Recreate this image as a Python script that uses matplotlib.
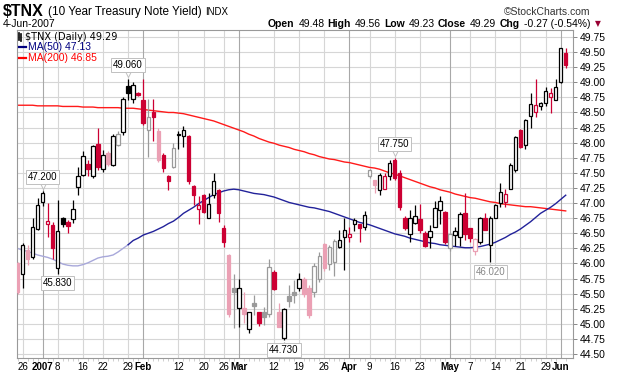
import numpy as np
import matplotlib
matplotlib.use('Agg')
import matplotlib.pyplot as plt
from matplotlib.patches import Rectangle
from matplotlib.lines import Line2D
from matplotlib import transforms

plt.rcParams['font.family'] = ['Liberation Sans', 'DejaVu Sans']

# daily candles, 22-Dec-2006 .. 4-Jun-2007 (trading-day index 0..109)
opens = [46.00, 45.83, 46.23, 46.10, 46.57, 47.01, 46.65, 46.64, 45.92, 46.75,
         46.68, 46.73, 47.27, 47.46, 47.65, 47.45, 47.98, 47.56, 47.83, 47.63,
         47.96, 48.18, 48.94, 48.73, 48.83, 48.71, 48.21, 48.50, 48.20, 47.80,
         47.45, 47.59, 48.13, 48.11, 48.11, 47.28, 46.90, 47.13, 46.76, 47.13,
         47.22, 46.58, 46.14, 45.59, 45.26, 45.26, 44.91, 45.35, 45.20, 45.19,
         45.16, 45.86, 45.20, 44.76, 45.46, 45.52, 45.60, 45.75, 45.59, 45.53,
         45.75, 46.32, 45.99, 46.03, 46.27, 46.44, 46.44, 46.66, 46.65, 46.60,
         47.44, 47.38, 47.21, 47.24, 47.44, 47.72, 47.50, 46.75, 46.49, 46.67,
         46.73, 46.51, 46.44, 46.61, 46.89, 46.86, 46.25, 46.47, 46.44, 46.84,
         46.58, 46.21, 46.36, 46.75, 46.30, 46.76, 47.00, 47.01, 47.24, 47.55,
         48.21, 47.96, 48.44, 48.50, 48.60, 48.65, 48.75, 48.71, 49.01, 49.48]
highs = [46.02, 46.34, 46.30, 46.75, 47.08, 47.20, 47.00, 46.69, 47.05, 46.77,
         46.72, 47.05, 47.60, 47.86, 47.72, 47.96, 48.24, 47.88, 47.86, 48.15,
         48.20, 48.76, 49.06, 49.00, 48.84, 49.05, 48.73, 48.73, 48.25, 47.83,
         47.46, 47.99, 48.20, 48.28, 48.13, 47.30, 47.12, 47.15, 47.16, 47.49,
         47.23, 46.64, 46.15, 45.83, 45.75, 45.52, 45.20, 45.48, 45.20, 45.28,
         46.07, 45.89, 45.35, 45.27, 45.64, 45.73, 45.84, 45.78, 45.65, 46.00,
         46.19, 46.34, 46.31, 46.40, 46.55, 46.76, 46.61, 46.76, 46.66, 46.87,
         47.56, 47.38, 47.49, 47.50, 47.72, 47.75, 47.55, 46.79, 46.89, 46.97,
         46.98, 46.53, 46.64, 47.04, 47.11, 46.87, 46.48, 46.61, 46.86, 47.16,
         46.58, 46.42, 46.77, 46.84, 46.78, 46.99, 47.33, 47.24, 47.66, 48.11,
         48.22, 48.40, 48.82, 49.05, 48.68, 48.92, 48.90, 49.05, 49.56, 49.56]
lows = [45.50, 45.59, 45.97, 46.08, 46.55, 46.95, 46.44, 46.08, 45.83, 46.60,
        46.50, 46.67, 47.13, 47.44, 47.44, 47.41, 47.55, 47.52, 47.62, 47.61,
        47.94, 48.13, 48.70, 48.66, 48.77, 48.30, 47.77, 48.02, 47.68, 47.52,
        47.22, 47.58, 47.89, 47.93, 47.32, 46.97, 46.66, 46.83, 46.76, 47.09,
        46.68, 46.28, 45.11, 44.93, 44.94, 45.01, 44.85, 45.15, 44.96, 44.98,
        45.12, 45.56, 44.94, 44.73, 45.28, 45.34, 45.55, 45.45, 45.10, 45.45,
        45.70, 45.88, 45.89, 45.80, 46.25, 45.89, 46.36, 46.53, 46.36, 46.55,
        47.42, 47.16, 47.13, 47.23, 47.38, 47.38, 46.89, 46.55, 46.36, 46.66,
        46.51, 46.28, 46.25, 46.61, 46.66, 46.33, 46.20, 46.29, 46.29, 46.39,
        46.36, 46.14, 46.33, 46.55, 46.02, 46.75, 46.94, 46.94, 47.23, 47.52,
        47.91, 47.90, 48.24, 48.42, 48.54, 48.60, 48.49, 48.70, 48.98, 49.23]
closes = [45.53, 46.30, 46.08, 46.60, 46.97, 47.16, 46.71, 46.25, 46.53, 46.66,
          46.62, 46.90, 47.45, 47.78, 47.56, 47.94, 47.60, 47.80, 47.65, 48.11,
          48.15, 48.72, 48.83, 48.96, 48.79, 48.32, 48.43, 48.42, 47.72, 47.58,
          47.37, 47.91, 48.15, 48.21, 47.37, 47.13, 46.96, 46.86, 46.99, 47.37,
          46.84, 46.36, 45.16, 45.53, 45.60, 45.17, 45.20, 45.30, 45.01, 45.12,
          45.94, 45.57, 44.95, 45.25, 45.38, 45.48, 45.75, 45.50, 45.14, 45.96,
          46.12, 45.92, 46.27, 46.37, 46.39, 46.55, 46.48, 46.72, 46.58, 46.81,
          47.54, 47.30, 47.46, 47.44, 47.67, 47.41, 46.93, 46.58, 46.76, 46.79,
          46.55, 46.29, 46.53, 46.91, 47.04, 46.36, 46.48, 46.53, 46.82, 46.49,
          46.42, 46.40, 46.75, 46.55, 46.76, 46.97, 47.19, 47.15, 47.63, 48.10,
          47.93, 48.38, 48.64, 48.62, 48.65, 48.86, 48.82, 48.93, 49.56, 49.29]

ma50 = [46.25, 46.22, 46.20, 46.17, 46.14, 46.12, 46.10, 46.07, 46.03, 45.99,
        45.97, 45.96, 45.96, 45.98, 46.01, 46.05, 46.09, 46.11, 46.12, 46.14,
        46.19, 46.25, 46.31, 46.38, 46.42, 46.47, 46.50, 46.53, 46.57, 46.61,
        46.66, 46.70, 46.76, 46.83, 46.88, 46.93, 46.99, 47.04, 47.09, 47.14,
        47.17, 47.20, 47.22, 47.23, 47.22, 47.20, 47.18, 47.16, 47.15, 47.14,
        47.12, 47.10, 47.07, 47.04, 47.01, 46.99, 46.97, 46.95, 46.93, 46.92,
        46.90, 46.88, 46.86, 46.83, 46.80, 46.77, 46.74, 46.71, 46.68, 46.66,
        46.64, 46.61, 46.58, 46.55, 46.52, 46.49, 46.47, 46.45, 46.42, 46.40,
        46.38, 46.36, 46.34, 46.33, 46.31, 46.30, 46.29, 46.28, 46.27, 46.26,
        46.26, 46.27, 46.28, 46.30, 46.32, 46.35, 46.39, 46.43, 46.48, 46.52,
        46.57, 46.63, 46.69, 46.76, 46.83, 46.88, 46.93, 46.99, 47.06, 47.13]
ma200 = [48.62, 48.62, 48.62, 48.62, 48.61, 48.61, 48.61, 48.61, 48.61, 48.60,
         48.60, 48.60, 48.60, 48.59, 48.59, 48.59, 48.58, 48.58, 48.58, 48.58,
         48.58, 48.57, 48.57, 48.57, 48.56, 48.55, 48.54, 48.53, 48.52, 48.51,
         48.50, 48.50, 48.49, 48.48, 48.46, 48.44, 48.42, 48.40, 48.38, 48.36,
         48.33, 48.30, 48.27, 48.24, 48.21, 48.18, 48.14, 48.11, 48.07, 48.04,
         48.01, 47.99, 47.96, 47.94, 47.92, 47.89, 47.87, 47.85, 47.82, 47.80,
         47.77, 47.75, 47.73, 47.72, 47.70, 47.68, 47.67, 47.65, 47.63, 47.61,
         47.59, 47.58, 47.56, 47.53, 47.50, 47.48, 47.45, 47.42, 47.39, 47.36,
         47.33, 47.30, 47.27, 47.25, 47.22, 47.20, 47.18, 47.15, 47.13, 47.11,
         47.09, 47.08, 47.06, 47.04, 47.02, 47.01, 46.99, 46.98, 46.97, 46.96,
         46.95, 46.94, 46.94, 46.93, 46.92, 46.91, 46.90, 46.89, 46.88, 46.87]

tick_pos = [1, 5, 8, 13, 17, 22, 25, 32, 37, 41, 44, 51, 56, 61, 66, 70, 75, 80,
            86, 90, 95, 100, 105, 108]
tick_labels = ['26', '2007', '8', '16', '22', '29', 'Feb', '12', '20', '26', 'Mar',
               '12', '19', '26', 'Apr', '9', '16', '23', 'May', '7', '14', '21',
               '29', 'Jun']
month_labels = ['2007', 'Feb', 'Mar', 'Apr', 'May', 'Jun']

# labelled extremes: (index, 'high' / 'low')
marks = [(22, 'high'), (5, 'high'), (8, 'low'), (53, 'low'), (75, 'high'), (94, 'low')]

# candles that look washed out in the original
faded = {0, 2, 18, 20, 26, 28, 31, 42, 43, 45, 47, 49, 50, 52, 54, 55, 57, 58,
         59, 60, 61, 62, 63, 70, 71, 86, 91}

W, H = 620, 376
RED, PINK, BLACK, GRAY = '#cc0033', '#eba0b4', '#000000', '#9a9a9a'


def fx(x):
    return x / W


def fy(y):
    return 1 - y / H


fig = plt.figure(figsize=(W / 100, H / 100), dpi=100)
L, R, T, B = 17, 573, 30, 358
ax = fig.add_axes([fx(L), fy(B), (R - L) / W, (B - T) / H])
ax.set_xlim(-0.1, 110.45)
ax.set_ylim(44.434, 49.866)

# grid
yt = np.arange(44.5, 49.76, 0.25)
for v in yt:
    ax.axhline(v, color='#d6d6d6', lw=0.8, zorder=0)
for p, lab in zip(tick_pos, tick_labels):
    ax.axvline(p, color='#a8a8a8' if lab in month_labels else '#d6d6d6', lw=0.8, zorder=0)

# moving averages
idx = np.arange(len(closes))
ax.plot(idx, ma200, color='#ff1a1a', lw=1.0, zorder=2)
ax.plot(idx[:23], ma50[:23], color='#a8a8da', lw=1.0, zorder=2)
ax.plot(idx[22:], ma50[22:], color='#22229a', lw=1.0, zorder=2)

# candles
bw = 0.7
for i in idx:
    o, h, l, c = opens[i], highs[i], lows[i], closes[i]
    prev = closes[i - 1] if i > 0 else o
    up = c >= prev
    if i in faded:
        col = GRAY if up else PINK
    else:
        col = BLACK if up else RED
    hollow = c > o
    ax.vlines(i, l, h, color=col, lw=0.9, zorder=3)
    lo, hi = min(o, c), max(o, c)
    if hi - lo < 0.02:
        lo, hi = (lo + hi) / 2 - 0.01, (lo + hi) / 2 + 0.01
    ax.add_patch(Rectangle((i - bw / 2, lo), bw, hi - lo, fc='white' if hollow else col,
                           ec=col, lw=0.9, zorder=4))

# high / low labels
for i, kind in marks:
    v = highs[i] if kind == 'high' else lows[i]
    dy = 10 if kind == 'high' else -7
    tc = '#888888' if i == 94 else 'black'
    ax.annotate(f'{v:.3f}', xy=(i, v), xytext=(0, dy), textcoords='offset points',
                ha='center', va='center', fontsize=7, color=tc, zorder=6,
                bbox=dict(boxstyle='square,pad=0.2', fc='white', ec='#c0c0c0', lw=0.7))
    off = transforms.offset_copy(ax.transData, fig=fig, x=0, y=(3.5 if kind == 'high' else -3.5),
                                 units='points')
    ax.plot(i, v, marker='v' if kind == 'high' else '^', ms=4, mfc='white', mec='#c0c0c0',
            mew=0.7, transform=off, zorder=5, clip_on=False)

# axes
ax.set_xticks(tick_pos)
ax.set_xticklabels(tick_labels)
for t in ax.get_xticklabels():
    if t.get_text() in month_labels:
        t.set_fontweight('bold')
ax.set_xticks(idx, minor=True)
ax.tick_params(axis='x', which='major', length=0, pad=3, labelsize=7)
ax.tick_params(axis='x', which='minor', length=2, color='#c8c8c8', width=0.6)
ax.yaxis.tick_right()
ax.set_yticks(yt)
ax.set_yticklabels([f'{v:.2f}' for v in yt])
ax.tick_params(axis='y', length=3, color='#888888', width=0.7, pad=1.5, labelsize=7.5)
for s in ax.spines.values():
    s.set_color('#999999')
    s.set_linewidth(0.8)

# header, line 1: pieces placed one after another
renderer = fig.canvas.get_renderer()
xcur = 3
for s, size, wgt in [('$TNX', 11.5, 'bold'), ('(10 Year Treasury Note Yield)', 8.5, 'normal'),
                     ('INDX', 7, 'normal')]:
    t = fig.text(fx(xcur), fy(12), s, fontsize=size, fontweight=wgt, va='center')
    xcur += t.get_window_extent(renderer).width + 4
fig.text(fx(590), fy(12), '\u00a9StockCharts.com', fontsize=7.5, va='center', ha='right',
         color='#333333')
fig.text(fx(3), fy(24), '4-Jun-2007', fontsize=7.5, va='center')

# header, line 2 (right aligned)
pieces = [('Open', 'bold'), ('49.48', 'normal'), ('High', 'bold'), ('49.56', 'normal'),
          ('Low', 'bold'), ('49.23', 'normal'), ('Close', 'bold'), ('49.29', 'normal'),
          ('Chg', 'bold'), ('-0.27 (-0.54%)', 'normal')]
xcur = 590
for s, wgt in reversed(pieces):
    t = fig.text(fx(xcur), fy(24), s, fontsize=7.5, fontweight=wgt, va='center', ha='right')
    w = t.get_window_extent(renderer).width
    xcur -= w + (3 if wgt == 'bold' else 4)
fig.text(fx(598), fy(24), '\u25bc', fontsize=5.5, color='#990033', va='center', ha='center',
         family='DejaVu Sans')

# legend inside the plot
for xx, y0, y1 in [(19, 33, 40), (21, 34, 41)]:
    fig.add_artist(Line2D([fx(xx), fx(xx)], [fy(y0), fy(y1)], color='black', lw=1.2))
fig.text(fx(25), fy(37), '$TNX (Daily) 49.29', fontsize=7, va='center', family='DejaVu Sans')
fig.add_artist(Line2D([fx(19), fx(26)], [fy(47), fy(47)], color='#000080', lw=1.6))
fig.text(fx(28), fy(47), 'MA(50) 47.13', fontsize=7.5, va='center', color='#000080')
fig.add_artist(Line2D([fx(19), fx(26)], [fy(58), fy(58)], color='#ff0000', lw=1.6))
fig.text(fx(28), fy(58), 'MA(200) 46.85', fontsize=7.5, va='center', color='#ff0000')

fig.savefig('out.png', dpi=100)
